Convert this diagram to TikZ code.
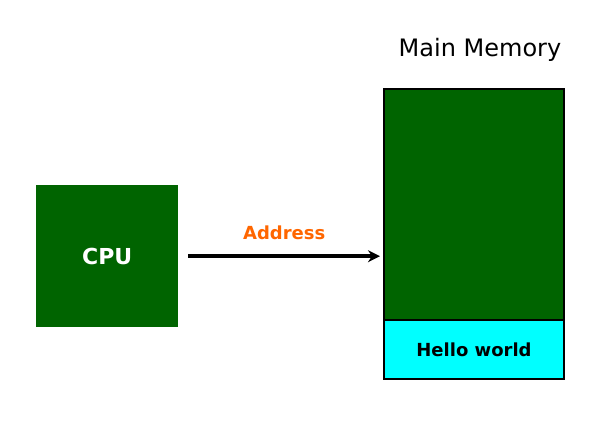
\documentclass[tikz,border=0pt]{standalone}
\usepackage{fontspec}
\setmainfont{DejaVu Sans}
\usetikzlibrary{arrows.meta}
\definecolor{cpugreen}{RGB}{0,100,0}
\definecolor{addrorange}{RGB}{255,102,0}
\definecolor{cellcyan}{RGB}{0,255,255}
\begin{document}
\begin{tikzpicture}[x=1pt,y=-1pt,
  greenbox/.style={fill=cpugreen,inner sep=0pt,anchor=north west},
  membox/.style={draw=black,line width=2pt,fill=cpugreen,inner sep=0pt,anchor=north west},
  cellbox/.style={draw=black,line width=2pt,fill=cellcyan,inner sep=0pt,anchor=north west,font=\bfseries\fontsize{18}{20}\selectfont},
  lbl/.style={inner sep=0pt}]
\useasboundingbox (0,0) rectangle (590,422);
\node[greenbox,minimum width=142pt,minimum height=142pt] (cpu) at (36,185) {};
\node[lbl,text=white,font=\bfseries\fontsize{22}{24}\selectfont] (cpulbl) at (cpu.center) {CPU};
\node[membox,minimum width=180pt,minimum height=290pt] (mem) at (383,88) {};
\node[cellbox,minimum width=180pt,minimum height=59pt] (hello) at (383,319) {Hello world};
\node[lbl,anchor=base,font=\fontsize{24}{26}\selectfont] (title) at (480,57) {Main Memory};
\coordinate (astart) at ([xshift=10pt]cpu.east);
\coordinate (aend) at ([xshift=-3pt]cpu.east -| mem.west);
\draw[line width=3.5pt,-{Stealth[length=12pt,width=12pt]}] (astart) -- (aend)
  node[midway,lbl,anchor=base,yshift=17pt,text=addrorange,font=\bfseries\fontsize{18}{20}\selectfont] (addr) {Address};
\end{tikzpicture}
\end{document}
